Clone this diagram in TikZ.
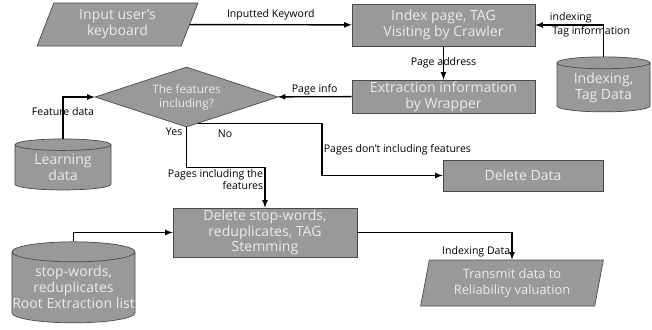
\documentclass[tikz,border=0pt]{standalone}
\usepackage{fontspec}
\setmainfont{Open Sans}
\usetikzlibrary{shapes.geometric, positioning}

\definecolor{boxgray}{HTML}{999999}
\definecolor{edgegray}{HTML}{4A4A4A}
\definecolor{txtgray}{HTML}{EBEBEB}

\begin{document}
\begin{tikzpicture}[
        x=0.03cm, y=-0.03cm,  % one unit = one pixel of the sketch
        every node/.style={inner sep=1pt},
        proc/.style={rectangle, draw=edgegray, fill=boxgray, text=txtgray, align=center,
            font=\fontsize{12}{13.5}\selectfont, line width=0.6pt, inner sep=0pt},
        io/.style={proc, trapezium, trapezium stretches=true},
        store/.style={proc, cylinder, shape border rotate=90, aspect=0.2},
        decide/.style={proc, diamond, font=\fontsize{10}{12}\selectfont},
        lbl/.style={font=\fontsize{9}{10.5}\selectfont, text=black},
        flow/.style={draw, line width=1.2pt, -latex}
    ]
    \useasboundingbox (0,0) rectangle (652,329);

    % top row
    \node[io, trapezium left angle=71, trapezium right angle=109,
          minimum width=4.83cm, minimum height=1.29cm] (input) at (117.5,24.5)
        {Input user's\\keyboard};
    \node[proc, minimum width=5.49cm, minimum height=1.26cm] (crawl) at (443.5,25)
        {Index page, TAG\\Visiting by Crawler};
    \node[store, minimum width=2.79cm, minimum height=1.65cm] (tagdata) at (603.5,87.5)
        {Indexing,\\Tag Data};

    % second row
    \node[proc, minimum width=5.49cm, minimum height=0.99cm] (wrap) at (443.5,96.5)
        {Extraction information\\by Wrapper};
    \node[decide, minimum width=5.49cm, minimum height=1.8cm, aspect=3] (check) at (186.5,97)
        {The features\\including?};
    \node[store, minimum width=2.88cm, minimum height=1.53cm] (learn) at (63,167.5)
        {Learning\\data};
    \node[proc, minimum width=4.8cm, minimum height=0.93cm] (deldata) at (523,175.5)
        {Delete Data};

    % bottom row
    \node[proc, minimum width=5.52cm, minimum height=1.47cm] (clean) at (265,232.5)
        {Delete stop-words,\\reduplicates, TAG\\Stemming};
    \node[store, minimum width=3.69cm, minimum height=2.43cm] (stoplist) at (73.5,287.5)
        {stop-words,\\reduplicates\\\makebox[3cm]{Root Extraction list}};
    \node[io, trapezium left angle=78, trapezium right angle=102,
          font=\fontsize{11}{13.5}\selectfont,
          minimum width=5.49cm, minimum height=1.38cm] (send) at (512,283)
        {Transmit data to\\Reliability valuation};

    \coordinate (nobend) at (322,175.5);

    % connectors
    \draw[flow] (input) -- node[lbl, above=2pt] {Inputted Keyword} (crawl);
    \draw[flow] (tagdata.north) |- node[lbl, pos=0.74, above] {indexing}
        node[lbl, pos=0.59, below] {Tag information} (crawl.east);
    \draw[flow] (crawl) -- node[lbl] {Page address} (wrap);
    \draw[flow] (wrap) -- node[lbl, above] {Page info} (check);
    \draw[flow] (learn.north) |- node[lbl, pos=0.33] {Feature data} (check.west);
    \draw[flow] (check.south) -- node[lbl, pos=0.12, left=2pt] {Yes} ++(0,40)
        -| node[lbl, pos=0.5, below left, align=right] {Pages including the\\features} (clean.north);
    \draw[flow] (check.-67) -| node[lbl, pos=0.11, below=4pt] {No}
        node[lbl, pos=0.75, right] {Pages don't including features} (nobend) -- (deldata.west);
    \draw[flow] (stoplist.north) |- (clean.west);
    \draw[flow] (clean.east) -| node[lbl, pos=0.85, left] {Indexing Data} (send.north);
\end{tikzpicture}
\end{document}
